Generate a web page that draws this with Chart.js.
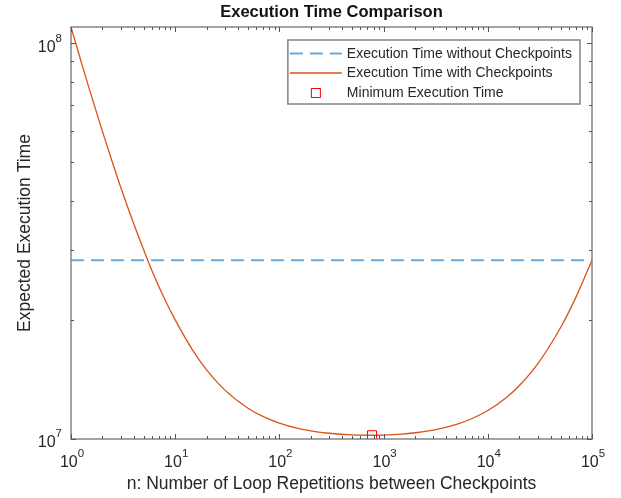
<!DOCTYPE html>
<html>
<head>
<meta charset="utf-8">
<title>Execution Time Comparison</title>
<script src="https://cdn.jsdelivr.net/npm/chart.js@4.4.1/dist/chart.umd.min.js"></script>
<style>
  html, body { margin: 0; padding: 0; background: #fff; }
  canvas { display: block; }
</style>
</head>
<body>
<canvas id="timeChart" width="621" height="498"></canvas>
<script>
// loop repetitions between checkpoints (x) and expected execution time (y)
const nValues = [1, 1.25, 1.5, 2, 2.5, 3, 4, 5, 6, 8, 10, 15, 20, 30, 50, 70, 100, 150, 200, 300, 500, 774,
  1000, 1500, 2000, 3000, 5000, 7000, 10000, 15000, 20000, 30000, 50000, 70000, 100000];
const timeWithCheckpoints = [1.10e8, 9.0e7, 7.66e7, 6.0e7, 5.0e7, 4.33e7, 3.5e7, 3.0e7, 2.66e7, 2.245e7, 2.0e7,
  1.662e7, 1.495e7, 1.329e7, 1.196e7, 1.139e7, 1.097e7, 1.064e7, 1.049e7, 1.034e7, 1.024e7, 1.022e7,
  1.023e7, 1.029e7, 1.037e7, 1.053e7, 1.089e7, 1.125e7, 1.18e7, 1.271e7, 1.363e7, 1.546e7, 1.913e7, 2.28e7, 2.83e7];
const timeWithoutCheckpoints = 2.83e7;
const minN = 774;
const minTime = 1.022e7;

const xRange = [1, 100000];
const yRange = [1e7, 1.1e8];
const xMajorTicks = [1, 10, 100, 1000, 10000, 100000];
const yMajorTicks = [1e7, 1e8];

const chartTitle = 'Execution Time Comparison';
const seriesLabels = ['Execution Time without Checkpoints', 'Execution Time with Checkpoints', 'Minimum Execution Time'];

const FONT = '"Liberation Sans", Arial, Helvetica, sans-serif';
const BLUE = '#6aaadb';
const ORANGE = '#d95319';
const RED = '#ff0000';
const AXIS = '#858585';
const TEXT = '#262626';

function minorTicks(lo, hi) {
  const out = [];
  for (let d = lo; d < hi; d *= 10) {
    for (let k = 1; k <= 9; k++) {
      const v = d * k;
      if (v >= lo && v <= hi) out.push({ v, major: k === 1 });
    }
  }
  out.push({ v: hi, major: true });
  return out;
}

// MATLAB-like box: frame, inward ticks on all four sides, 10^k labels, legend, title over the axes
const matlabAxes = {
  id: 'matlabAxes',
  afterDatasetsDraw(chart) {
    const { ctx, chartArea: a, scales: { x, y } } = chart;
    ctx.save();
    ctx.strokeStyle = AXIS;
    ctx.lineWidth = 1.5;
    ctx.strokeRect(a.left, a.top, a.right - a.left, a.bottom - a.top);

    ctx.lineWidth = 1;
    ctx.strokeStyle = '#555';
    ctx.beginPath();
    minorTicks(xRange[0], xRange[1]).forEach(t => {
      const px = Math.round(x.getPixelForValue(t.v)) + 0.5;
      const len = t.major ? 5 : 3;
      ctx.moveTo(px, a.bottom); ctx.lineTo(px, a.bottom - len);
      ctx.moveTo(px, a.top); ctx.lineTo(px, a.top + len);
    });
    minorTicks(yRange[0], 1e8).forEach(t => {
      const py = Math.round(y.getPixelForValue(t.v)) + 0.5;
      const len = t.major ? 5 : 3;
      ctx.moveTo(a.left, py); ctx.lineTo(a.left + len, py);
      ctx.moveTo(a.right, py); ctx.lineTo(a.right - len, py);
    });
    ctx.stroke();

    // tick labels as 10 with a raised exponent
    ctx.fillStyle = TEXT;
    ctx.textBaseline = 'middle';
    const base = '16px ' + FONT;
    const sup = '11.5px ' + FONT;
    xMajorTicks.forEach(v => {
      const exp = String(Math.round(Math.log10(v)));
      const px = x.getPixelForValue(v);
      ctx.font = base; const w1 = ctx.measureText('10').width;
      ctx.font = sup; const w2 = ctx.measureText(exp).width;
      const start = px - (w1 + w2) / 2 + 1;
      ctx.textAlign = 'left';
      ctx.font = base; ctx.fillText('10', start, a.bottom + 24);
      ctx.font = sup; ctx.fillText(exp, start + w1, a.bottom + 15);
    });
    yMajorTicks.forEach(v => {
      const exp = String(Math.round(Math.log10(v)));
      const py = y.getPixelForValue(v);
      ctx.font = sup; const w2 = ctx.measureText(exp).width;
      const right = a.left - 9;
      ctx.textAlign = 'right';
      ctx.fillText(exp, right, py - 5);
      ctx.font = base; ctx.fillText('10', right - w2, py + 4);
    });
    ctx.restore();
  },
  afterDraw(chart) {
    const { ctx, chartArea: a } = chart;
    ctx.save();

    ctx.fillStyle = '#111';
    ctx.font = 'bold 16.5px ' + FONT;
    ctx.textAlign = 'center';
    ctx.textBaseline = 'middle';
    ctx.fillText(chartTitle, (a.left + a.right) / 2, 12);

    ctx.font = '14px ' + FONT;
    const textW = Math.max(...seriesLabels.map(s => ctx.measureText(s).width));
    const sample = 52;
    const w = 2 + sample + 5 + textW + 8;
    const h = 64;
    const left = a.right - 12 - w;
    const top = a.top + 13;
    ctx.fillStyle = '#fff';
    ctx.fillRect(left, top, w, h);
    ctx.strokeStyle = AXIS;
    ctx.lineWidth = 1.5;
    ctx.strokeRect(left, top, w, h);

    const rows = [top + 13.5, top + 33, top + 53];
    const sx = left + 2;
    // dashed sample
    ctx.strokeStyle = BLUE;
    ctx.lineWidth = 2;
    ctx.setLineDash([13, 7]);
    ctx.beginPath(); ctx.moveTo(sx, rows[0]); ctx.lineTo(sx + sample, rows[0]); ctx.stroke();
    ctx.setLineDash([]);
    // solid sample
    ctx.strokeStyle = ORANGE;
    ctx.lineWidth = 1.3;
    ctx.beginPath(); ctx.moveTo(sx, rows[1]); ctx.lineTo(sx + sample, rows[1]); ctx.stroke();
    // marker sample
    ctx.strokeStyle = RED;
    ctx.lineWidth = 1;
    ctx.strokeRect(sx + sample / 2 - 4.5, rows[2] - 4.5, 9, 9);

    ctx.fillStyle = TEXT;
    ctx.textAlign = 'left';
    ctx.textBaseline = 'middle';
    seriesLabels.forEach((s, i) => ctx.fillText(s, sx + sample + 5, rows[i] + 0.5));
    ctx.restore();
  }
};

const ctx = document.getElementById('timeChart').getContext('2d');
new Chart(ctx, {
  type: 'scatter',
  data: {
    datasets: [
      {
        label: seriesLabels[0],
        data: [{ x: xRange[0], y: timeWithoutCheckpoints }, { x: xRange[1], y: timeWithoutCheckpoints }],
        showLine: true,
        borderColor: BLUE,
        borderWidth: 2,
        borderDash: [13, 7],
        pointRadius: 0,
        order: 2
      },
      {
        label: seriesLabels[1],
        data: nValues.map((n, i) => ({ x: n, y: timeWithCheckpoints[i] })),
        showLine: true,
        borderColor: ORANGE,
        borderWidth: 1.3,
        cubicInterpolationMode: 'monotone',
        pointRadius: 0,
        order: 1
      },
      {
        label: seriesLabels[2],
        data: [{ x: minN, y: minTime }],
        pointStyle: 'rect',
        pointRadius: 6.4,
        pointBorderColor: RED,
        pointBackgroundColor: 'rgba(0,0,0,0)',
        pointBorderWidth: 1,
        order: 0
      }
    ]
  },
  options: {
    responsive: false,
    animation: false,
    layout: { padding: { top: 27, right: 29 } },
    plugins: {
      legend: { display: false },
      tooltip: { enabled: false },
      title: { display: false }
    },
    scales: {
      x: {
        type: 'logarithmic',
        min: xRange[0],
        max: xRange[1],
        grid: { display: false },
        border: { display: false },
        ticks: { display: false },
        title: {
          display: true,
          text: 'n: Number of Loop Repetitions between Checkpoints',
          color: TEXT,
          font: { family: FONT, size: 17.5, lineHeight: 1.2 },
          padding: { top: 0, bottom: 3.5 }
        },
        afterFit(scale) { scale.height = 59; }
      },
      y: {
        type: 'logarithmic',
        min: yRange[0],
        max: yRange[1],
        grid: { display: false },
        border: { display: false },
        ticks: { display: false },
        title: {
          display: true,
          text: 'Expected Execution Time',
          color: TEXT,
          font: { family: FONT, size: 17.5, lineHeight: 1.2 },
          padding: { top: 14.5, bottom: 0 }
        },
        afterFit(scale) { scale.width = 71; }
      }
    }
  },
  plugins: [matlabAxes]
});
</script>
</body>
</html>
